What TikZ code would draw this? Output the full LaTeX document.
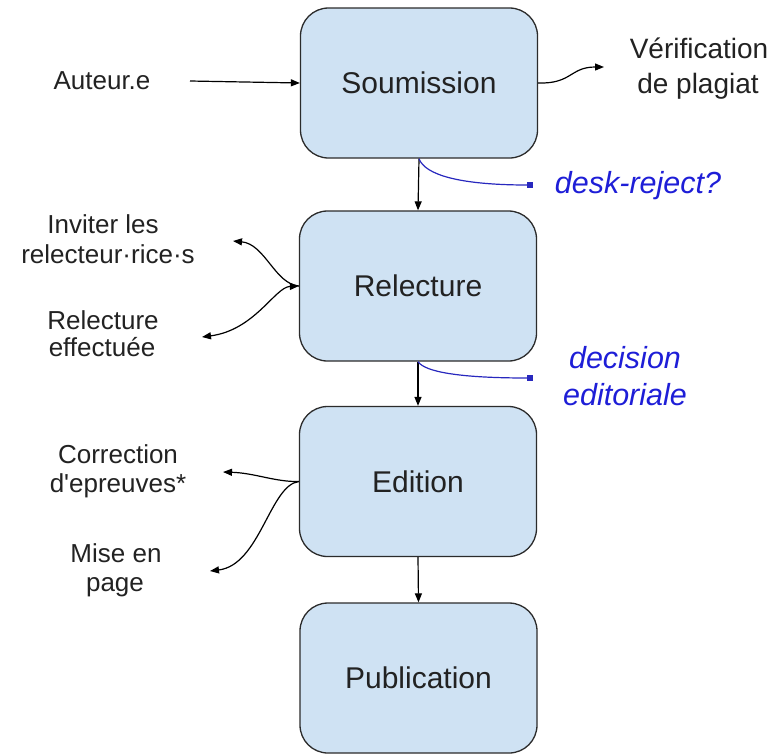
\documentclass[tikz,border=0pt]{standalone}
\usepackage{fontspec}
\setmainfont{Liberation Sans}[Ligatures=TeXOff]
\usetikzlibrary{arrows.meta}
\definecolor{boxfill}{HTML}{CFE2F3}
\definecolor{boxdraw}{HTML}{2B2B2B}
\definecolor{txt}{HTML}{222222}
\definecolor{bluetxt}{RGB}{30,30,215}
\definecolor{blueline}{RGB}{40,40,190}
\tikzset{
  stage/.style={draw=boxdraw, line width=1.3pt, fill=boxfill, rounded corners=28pt,
    minimum width=237pt, minimum height=150pt, inner sep=0pt, text=txt,
    font=\fontsize{30}{34}\selectfont},
  lbl/.style={anchor=base, inner sep=0pt, text=txt, font=\fontsize{26}{30}\selectfont},
  vlbl/.style={anchor=base, inner sep=0pt, text=txt, font=\fontsize{28}{34}\selectfont},
  blbl/.style={anchor=base, inner sep=0pt, text=bluetxt, font=\fontsize{30.5}{36}\selectfont\itshape},
  flow/.style={draw=black, line width=1.2pt, -{Triangle[length=9pt,width=7pt]}},
  bflow/.style={draw=blueline, line width=1.2pt, -{Square[length=6pt,width=6pt]}},
}
\begin{document}
\begin{tikzpicture}[x=1pt,y=-1pt]
\useasboundingbox (0,0) rectangle (775,753);
% stages
\node[stage] (soum) at (419,83) {Soumission};
\node[stage] (rel) at (418,286) {Relecture};
\node[stage] (ed) at (418,481.5) {Edition};
\node[stage] (pub) at (418.5,678) {Publication};
% labels
\node[lbl] (aut) at (102,89) {Auteur.e};
\node[vlbl] (ver1) at (699,58) {Vérification};
\node[vlbl] (ver2) at (698,93) {de plagiat};
\node[lbl] (inv1) at (103,233) {Inviter les};
\node[lbl] (inv2) at (108,263) {relecteur·rice·s};
\node[lbl] (eff1) at (103,329) {Relecture};
\node[lbl] (eff2) at (102,356) {effectuée};
\node[lbl] (cor1) at (118,463) {Correction};
\node[lbl] (cor2) at (118,492) {d'epreuves*};
\node[lbl] (mis1) at (116,562) {Mise en};
\node[lbl] (mis2) at (115,591) {page};
\node[blbl] (desk) at (638,193) {desk-reject?};
\node[blbl] (dec1) at (625,368) {decision};
\node[blbl] (dec2) at (625,405) {editoriale};
% free ends
\coordinate (autS) at (190,81);
\coordinate (verE) at (604,67);
\coordinate (deskE) at (533,185);
\coordinate (decE) at (533,378);
\coordinate (invE) at (233,241);
\coordinate (effE) at (202,337);
\coordinate (corE) at (223,472);
\coordinate (misE) at (210,571);
% main flow
\draw[flow] (soum.south) -- (rel.north);
\draw[flow] (rel.south) -- (ed.north);
\draw[flow] (ed.south) -- (pub.north);
% inputs / outputs
\draw[flow] (autS) -- (soum.west);
\draw[flow] (soum.east) .. controls (572,84) and (570,67) .. (verE);
\draw[bflow] (soum.south) .. controls (425,175) and (460,185) .. (deskE);
\draw[bflow] (rel.south) .. controls (425,372) and (460,378) .. (decE);
\draw[flow] (rel.west) .. controls (275,284) and (265,244) .. (invE);
\draw[flow, {Triangle[length=9pt,width=7pt]}-{Triangle[length=9pt,width=7pt]}] (effE) .. controls (255,330) and (275,287) .. (rel.west);
\draw[flow] (ed.west) .. controls (275,482) and (255,473) .. (corE);
\draw[flow] (ed.west) .. controls (270,485) and (260,565) .. (misE);
\end{tikzpicture}
\end{document}
